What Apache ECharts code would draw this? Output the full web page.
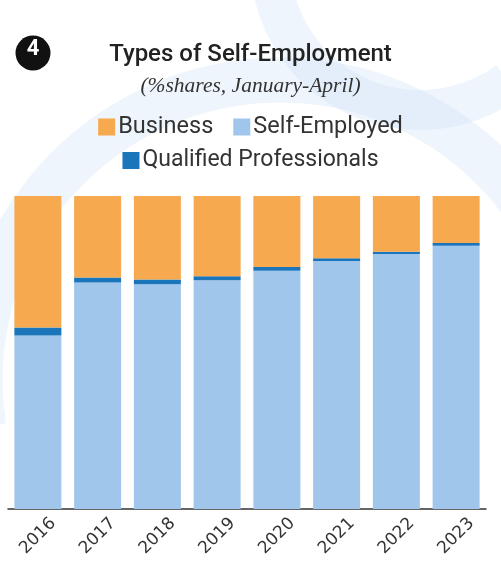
<!DOCTYPE html>
<html>
<head>
<meta charset="utf-8">
<script src="https://cdn.jsdelivr.net/npm/echarts@6/dist/echarts.min.js"></script>
<style>
  html, body { margin: 0; padding: 0; background: #ffffff; }
  #chart { width: 501px; height: 572px; }
</style>
</head>
<body>
<div id="chart"></div>
<script>
// Shares of self-employment by type, January-April (%)
const years = ['2016', '2017', '2018', '2019', '2020', '2021', '2022', '2023'];
const selfEmployed = [55.4, 72.4, 71.8, 73.1, 76.1, 79.2, 81.5, 84.1];
const qualifiedProfessionals = [2.6, 1.6, 1.5, 1.3, 1.2, 0.9, 0.7, 0.9];
const business = [42.0, 26.0, 26.7, 25.6, 22.7, 19.9, 17.8, 15.0];

const ORANGE = '#F6A94F';
const LIGHT_BLUE = '#A0C6EB';
const DARK_BLUE = '#1B75BA';

const chart = echarts.init(document.getElementById('chart'));

chart.setOption({
  backgroundColor: '#ffffff',
  animation: false,
  title: [
    {
      text: 'Types of Self-Employment',
      left: 'center',
      top: 38,
      textStyle: { fontFamily: 'Roboto', fontWeight: 500, fontSize: 24, color: '#222' }
    },
    {
      text: '(%shares, January-April)',
      left: 'center',
      top: 70,
      textStyle: { fontFamily: 'Liberation Serif', fontStyle: 'italic', fontWeight: 'normal', fontSize: 21.5, color: '#333' }
    }
  ],
  legend: [
    {
      data: ['Business', 'Self-Employed'],
      top: 110,
      left: 'center',
      icon: 'rect',
      itemWidth: 17,
      itemHeight: 17,
      itemGap: 20,
      textStyle: { fontFamily: 'Roboto', fontSize: 23.5, color: '#333', padding: [0, 0, 0, -2] }
    },
    {
      data: ['Qualified Professionals'],
      top: 144,
      left: 'center',
      icon: 'rect',
      itemWidth: 17,
      itemHeight: 17,
      textStyle: { fontFamily: 'Roboto', fontSize: 23, color: '#333', padding: [0, 0, 0, -2] }
    }
  ],
  graphic: [
    // faint swirl decoration behind the chart
    {
      type: 'arc',
      shape: { cx: 280, cy: 380, r: 300, startAngle: Math.PI * 0.95, endAngle: Math.PI * 1.85 },
      style: { stroke: 'rgba(205, 226, 245, 0.35)', lineWidth: 45, fill: 'none' },
      z: -10
    },
    {
      type: 'arc',
      shape: { cx: 420, cy: -40, r: 150, startAngle: Math.PI * 0.3, endAngle: Math.PI * 0.95 },
      style: { stroke: 'rgba(205, 226, 245, 0.35)', lineWidth: 40, fill: 'none' },
      z: -10
    },
    {
      type: 'circle',
      shape: { cx: 33, cy: 53, r: 17.5 },
      style: { fill: '#111' },
      z: 10
    },
    {
      type: 'text',
      x: 33,
      y: 49,
      style: { text: '4', fill: '#fff', font: 'bold 22px Roboto', align: 'center', verticalAlign: 'middle' },
      z: 11
    }
  ],
  grid: { left: 8, right: 15, top: 196, bottom: 63 },
  xAxis: {
    type: 'category',
    data: years,
    axisLine: { lineStyle: { color: '#333', width: 1.5 } },
    axisTick: { show: false },
    axisLabel: {
      rotate: 45,
      align: 'center',
      verticalAlign: 'middle',
      margin: 27,
      fontFamily: 'DejaVu Sans',
      fontSize: 17,
      color: '#333'
    }
  },
  yAxis: {
    type: 'value',
    min: 0,
    max: 100,
    show: false,
    splitLine: { show: false }
  },
  series: [
    {
      name: 'Self-Employed',
      type: 'bar',
      stack: 'total',
      barWidth: 47,
      data: selfEmployed,
      itemStyle: { color: LIGHT_BLUE }
    },
    {
      name: 'Qualified Professionals',
      type: 'bar',
      stack: 'total',
      data: qualifiedProfessionals,
      itemStyle: { color: DARK_BLUE }
    },
    {
      name: 'Business',
      type: 'bar',
      stack: 'total',
      data: business,
      itemStyle: { color: ORANGE }
    }
  ]
});
</script>
</body>
</html>
